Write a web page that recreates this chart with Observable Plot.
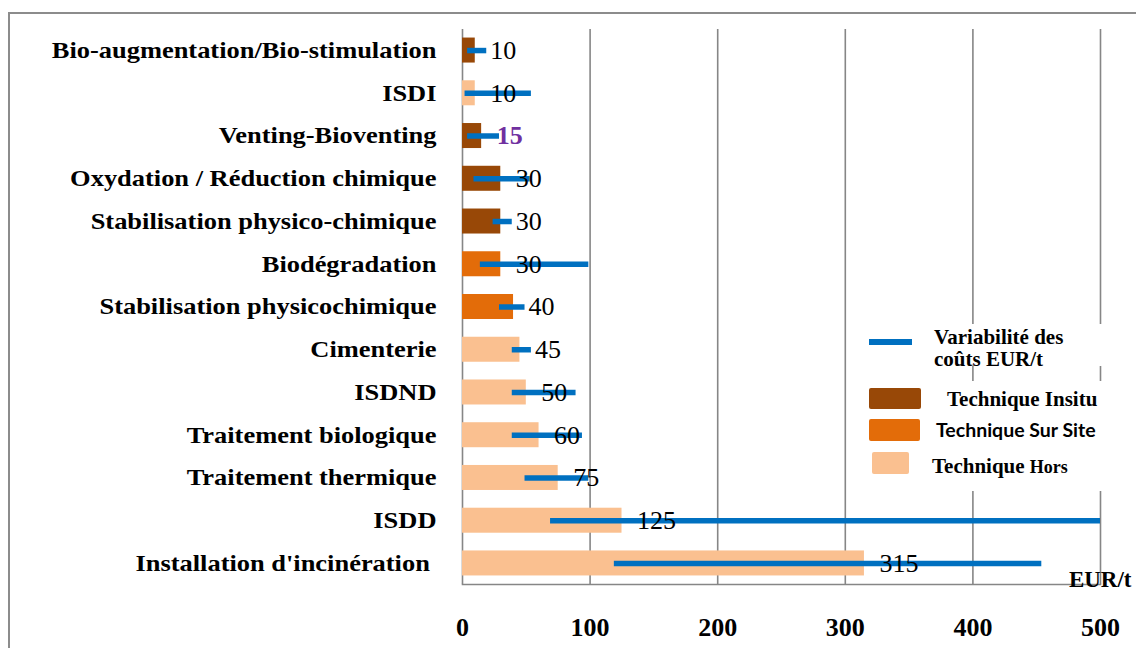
<!DOCTYPE html>
<html>
<head>
<meta charset="utf-8">
<script src="https://cdn.jsdelivr.net/npm/d3@7"></script>
<script src="https://cdn.jsdelivr.net/npm/@observablehq/plot@0.6"></script>
<style>
  html, body { margin: 0; padding: 0; background: #fff; }
  #wrap { position: relative; width: 1136px; height: 648px; overflow: hidden; font-family: "Liberation Serif", "Times New Roman", serif; }
  #border { position: absolute; left: 8px; top: 12px; right: -10px; bottom: -10px; border-top: 2px solid #8c8c8c; border-left: 2px solid #8c8c8c; }
  #chart { position: absolute; left: 0; top: 0; }
  .lg { position: absolute; background: #fff; }
  .lgtext { position: absolute; font-weight: bold; color: #000; white-space: nowrap; }
</style>
</head>
<body>
<div id="wrap">
  <div id="border"></div>
  <div id="chart"></div>
  <div class="lg" style="left:862px; top:324px; width:246px; height:42px;"></div>
  <div class="lg" style="left:862px; top:381px; width:246px; height:110px;"></div>
  <div id="legend"></div>
</div>
<script>
const categories = [
  "Bio-augmentation/Bio-stimulation",
  "ISDI",
  "Venting-Bioventing",
  "Oxydation / Réduction chimique",
  "Stabilisation physico-chimique",
  "Biodégradation",
  "Stabilisation physicochimique",
  "Cimenterie",
  "ISDND",
  "Traitement biologique",
  "Traitement thermique",
  "ISDD",
  "Installation d'incinération\u00a0"
];
const values = [10, 10, 15, 30, 30, 30, 40, 45, 50, 60, 75, 125, 315];
const minCost = [4, 2, 4, 9, 24, 14, 29, 39, 39, 39, 49, 69, 119];
const maxCost = [19, 54, 29, 53, 39, 99, 49, 54, 89, 94, 99, 500, 454];
const types = ["Insitu", "Hors", "Insitu", "Insitu", "Insitu", "Sur Site", "Sur Site", "Hors", "Hors", "Hors", "Hors", "Hors", "Hors"];
const typeNames = ["Insitu", "Sur Site", "Hors"];
const typeColors = ["#984807", "#E36C09", "#FAC090"];
const xTicks = [0, 100, 200, 300, 400, 500];
const highlighted = ["Venting-Bioventing"];

const rows = categories.map((c, i) => ({
  name: c, value: values[i], min: minCost[i], max: maxCost[i], type: types[i]
}));

const serif = "'Liberation Serif', 'Times New Roman', serif";

const chart = Plot.plot({
  width: 1136,
  height: 648,
  marginLeft: 462,
  marginRight: 36,
  marginTop: 29,
  marginBottom: 64,
  style: { fontFamily: serif, background: "transparent", color: "#000" },
  x: { domain: [0, 500], axis: null },
  y: { domain: categories, paddingInner: 0.415, paddingOuter: 0.2, round: false, axis: null },
  color: { domain: typeNames, range: typeColors },
  marks: [
    Plot.ruleX(xTicks, { stroke: "#868686", strokeWidth: 1.6, strokeOpacity: 1 }),
    Plot.frame({ anchor: "bottom", stroke: "#868686", strokeWidth: 1.6 }),
    Plot.barX(rows, { x: "value", y: "name", fill: "type" }),
    Plot.ruleY(rows, { y: "name", x1: "min", x2: "max", stroke: "#0070C0", strokeWidth: 5.5 }),
    Plot.text(rows.filter(d => !highlighted.includes(d.name)), {
      x: "value", y: "name", text: d => String(d.value), dx: 15, textAnchor: "start",
      fontSize: 26, fill: "#000"
    }),
    Plot.text(rows.filter(d => highlighted.includes(d.name)), {
      x: "value", y: "name", text: d => String(d.value), dx: 15, textAnchor: "start",
      fontSize: 26, fontWeight: "bold", fill: "#7030A0"
    }),
    Plot.axisY({ domain: categories, tickSize: 0, tickPadding: 26, fontSize: 23, fontWeight: "bold", label: null, fill: "#000" }),
    Plot.axisX({ ticks: xTicks, tickSize: 0, tickPadding: 33, fontSize: 26, fontWeight: "bold", label: null, tickFormat: d => String(d), fill: "#000" }),
    Plot.text(["EUR/t"], { frameAnchor: "bottom-right", text: d => d, dx: 31, dy: 2, textAnchor: "end", lineAnchor: "bottom", fontSize: 23, fontWeight: "bold", fill: "#000" })
  ]
});
document.getElementById("chart").appendChild(chart);

// The reference's category labels are drawn horizontally wider than normal
chart.querySelectorAll('g[aria-label="y-axis tick label"] text').forEach(t => {
  const tr = t.getAttribute("transform") || "";
  t.setAttribute("transform", tr + " scale(1.15,1)");
});

// Legend (HTML)
const legend = document.getElementById("legend");
const items = [
  { kind: "line", color: "#0070C0", box: [869, 339, 43, 6], html: "Variabilité des<br>coûts EUR/t", tpos: [934, 326], fs: 21, lh: 22, font: serif },
  { kind: "rect", color: typeColors[0], box: [869, 388, 52, 21], html: "Technique Insitu", tpos: [947, 388], fs: 21, lh: 22, font: serif },
  { kind: "rect", color: typeColors[1], box: [869, 419, 51, 22], html: "Technique Sur Site", tpos: [936, 419], fs: 19.5, lh: 22, font: "Lato, 'Open Sans', sans-serif" },
  { kind: "rect", color: typeColors[2], box: [872, 452, 37, 22], html: "Technique <span style='font-size:18px'>Hors</span>", tpos: [932, 455], fs: 21, lh: 22, font: serif }
];
for (const it of items) {
  const sw = document.createElement("div");
  sw.style.cssText = `position:absolute;left:${it.box[0]}px;top:${it.box[1]}px;width:${it.box[2]}px;height:${it.box[3]}px;background:${it.color};border-radius:${it.kind === "rect" ? 2 : 0}px;`;
  legend.appendChild(sw);
  const t = document.createElement("div");
  t.className = "lgtext";
  t.style.cssText += `left:${it.tpos[0]}px;top:${it.tpos[1]}px;font-size:${it.fs}px;line-height:${it.lh}px;font-family:${it.font};`;
  t.innerHTML = it.html;
  legend.appendChild(t);
}
</script>
</body>
</html>
